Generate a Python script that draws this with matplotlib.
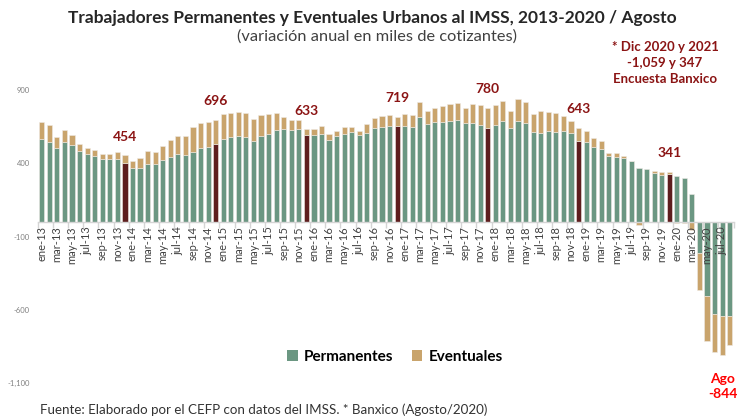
import matplotlib
matplotlib.use("Agg")
import matplotlib.pyplot as plt
from matplotlib.patches import Patch
import numpy as np

plt.rcParams['font.family'] = ['Lato', 'DejaVu Sans']

# ---- data ----
month_names = ['ene', 'feb', 'mar', 'abr', 'may', 'jun', 'jul', 'ago', 'sep', 'oct', 'nov', 'dic']
years = ['13', '14', '15', '16', '17', '18', '19', '20']
n_months_last_year = 8
categories = [f"{m}-{y}" for y in years for m in month_names][:12 * 7 + n_months_last_year]

permanentes = [
    568, 545, 504, 543, 522, 481, 461, 449, 429, 429, 429, 399,   # 2013
    365, 365, 395, 393, 424, 445, 463, 454, 474, 504, 511, 529,   # 2014
    565, 579, 586, 582, 552, 584, 597, 627, 634, 625, 634, 595,   # 2015
    595, 603, 559, 584, 602, 612, 593, 608, 639, 647, 653, 652,   # 2016
    654, 647, 716, 668, 679, 681, 687, 695, 675, 674, 661, 643,   # 2017
    661, 688, 638, 688, 675, 613, 606, 618, 613, 620, 604, 554,   # 2018
    547, 513, 497, 449, 440, 433, 413, 365, 358, 336, 322, 324,   # 2019
    315, 297, 188, -210, -509, -627, -645, -645,                   # 2020
]
eventuales = [
    113, 114, 77, 86, 68, 53, 45, 41, 32, 32, 45, 55,
    53, 68, 86, 81, 91, 116, 123, 132, 171, 168, 170, 167,
    169, 162, 161, 159, 148, 148, 139, 114, 79, 68, 59, 38,
    39, 50, 39, 39, 45, 33, 30, 59, 67, 73, 74, 67,
    81, 81, 105, 91, 96, 107, 115, 118, 104, 128, 140, 137,
    139, 139, 116, 153, 145, 125, 148, 129, 132, 100, 82, 89,
    71, 59, 53, 23, 28, 19, 5, -20, -3, 9, 20, 17,
    -10, -5, -55, -255, -307, -262, -262, -199,
]
dec_labels = [454, 696, 633, 719, 780, 643, 341]
last_label = -844
yticks = [-1100, -600, -100, 400, 900]

# ---- styling ----
GREEN = '#6B9782'
TAN = '#C9A46C'
DARK = '#5E1E1E'
ANN = '#8B1414'

perm = np.array(permanentes, dtype=float)
ev = np.array(eventuales, dtype=float)
x = np.arange(len(categories))
same_sign = np.sign(perm) == np.sign(ev)
ev_bottom = np.where(same_sign, perm, 0.0)

W, H = 740, 418
fig = plt.figure(figsize=(W / 100, H / 100), dpi=100)
ax_left, ax_right = 38 / W, 733.5 / W
ax_bottom, ax_top = (H - 383) / H, (H - 90) / H
ax = fig.add_axes([ax_left, ax_bottom, ax_right - ax_left, ax_top - ax_bottom])
ax.set_axisbelow(False)

perm_colors = [DARK if c.startswith('dic') else GREEN for c in categories]
ax.bar(x, perm, width=0.68, color=perm_colors, edgecolor='#eeeae4', linewidth=0.4, zorder=1)
ax.bar(x, ev, bottom=ev_bottom, width=0.68, color=TAN, edgecolor='#eeeae4', linewidth=0.4, zorder=1)

ax.set_xlim(-0.5, len(categories) - 0.5)
ax.set_ylim(-1100, 900)

for s in ['top', 'right', 'left']:
    ax.spines[s].set_visible(False)
ax.spines['bottom'].set_position(('data', 0))
ax.spines['bottom'].set_color('#d4d4d4')
ax.spines['bottom'].set_linewidth(1.0)

ax.set_xticks(x[::2])
ax.set_xticklabels(categories[::2], rotation=90, fontsize=8, color='#404040')
ax.tick_params(axis='x', which='major', length=0, pad=3)
ax.set_xticks(np.arange(-0.5, len(categories), 2), minor=True)
ax.tick_params(axis='x', which='minor', length=4, color='#d4d4d4', width=1)

ax.set_yticks(yticks)
ax.set_yticklabels([f"{v:,}" for v in yticks], fontsize=5.5, color='#808080')
ax.tick_params(axis='y', length=0, pad=6)

# December annotations
dec_idx = [i for i, c in enumerate(categories) if c.startswith('dic')]
for i, lab in zip(dec_idx, dec_labels):
    top = perm[i] + max(ev[i], 0)
    ax.annotate(f"{lab}", xy=(i, top), xytext=(0, 9), textcoords='offset points',
                ha='center', va='bottom', fontsize=10, fontweight='bold', color=ANN,
                annotation_clip=False)

# last month annotation
li = len(categories) - 1
ax.annotate(f"Ago\n{last_label}", xy=(li, perm[li] + ev[li]), xytext=(-5, -20),
            textcoords='offset points', ha='center', va='top', fontsize=10,
            fontweight='bold', color='#FF0000', linespacing=1.3, annotation_clip=False)

# titles
fig.text(372 / W, 1 - 18 / H, "Trabajadores Permanentes y Eventuales Urbanos al IMSS, 2013-2020 / Agosto",
         ha='center', va='center', fontsize=12.5, fontweight='bold', color='#262626')
fig.text(377 / W, 1 - 37 / H, "(variación anual en miles de cotizantes)",
         ha='center', va='center', fontsize=11.8, color='#404040')
fig.text(665 / W, 1 - 41 / H, "* Dic 2020 y 2021\n-1,059 y 347\nEncuesta Banxico",
         ha='center', va='top', fontsize=9.5, fontweight='bold', color=ANN, linespacing=1.4)
fig.text(40 / W, 1 - 410 / H, "Fuente: Elaborado por el CEFP con datos del IMSS. * Banxico (Agosto/2020)",
         ha='left', va='center', fontsize=9.6, color='#333333')

handles = [Patch(facecolor=GREEN, label='Permanentes'), Patch(facecolor=TAN, label='Eventuales')]
fig.legend(handles=handles, loc='center', bbox_to_anchor=(395 / W, 1 - 357 / H), ncol=2,
           frameon=False, prop={'weight': 'bold', 'size': 11}, handlelength=0.7,
           handleheight=0.7, handletextpad=0.4, columnspacing=1.2)

fig.savefig('out.png', dpi=100)
